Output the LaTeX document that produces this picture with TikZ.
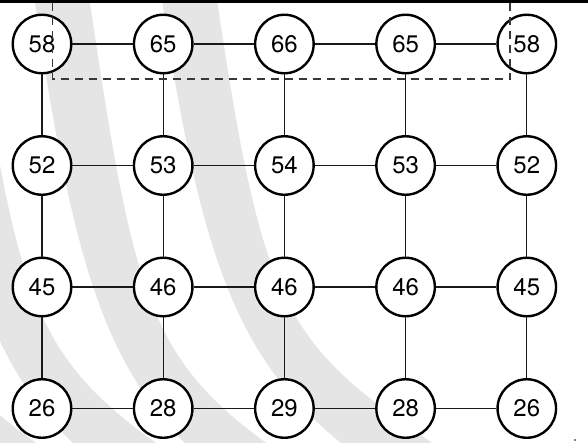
\documentclass[tikz,border=0pt]{standalone}
\usepackage{fontspec}
\setmainfont{TeX Gyre Heros}
\definecolor{bandgray}{RGB}{229,229,229}
\definecolor{dashcol}{RGB}{55,55,55}
\begin{document}
\begin{tikzpicture}[x=1pt,y=-1pt,
  nd/.style={circle, draw=black, line width=2.4pt, fill=white, minimum size=58.5pt, inner sep=0pt, font=\fontsize{24}{24}\selectfont},
  link/.style={line width=1.3pt, draw=black!90},
  dashline/.style={line width=1.2pt, draw=dashcol, dash pattern=on 8pt off 6pt},
  band/.style={fill=bandgray, draw=none}]
\useasboundingbox (0,0) rectangle (588,442);
\fill[white] (0,0) rectangle (588,442);
% background bands
\begin{scope}
\clip (0,0) rectangle (588,442);
% band C
\fill[band] (162,0) .. controls (208,308) and (251,387) .. (401,487) -- (431,442)
  .. controls (281,342) and (262,300) .. (217,0) -- cycle;
% band B
\fill[band] (34.5,0) -- (39,30) .. controls (85,338) and (128,417) .. (278,517) -- (308,472)
  .. controls (158,372) and (139,330) .. (94,30) -- (89.5,0) -- cycle;
% band A
\fill[band] (-82,0) -- (-78,25) .. controls (-32,333) and (11,412) .. (161,512) -- (191,467)
  .. controls (41,367) and (22,325) .. (-23,25) -- (-27,0) -- cycle;
% band Z
\fill[band] (-198,25) .. controls (-152,333) and (-109,412) .. (41,512) -- (71,467)
  .. controls (-79,367) and (-98,325) .. (-143,25) -- cycle;
\end{scope}
% top bar
\fill[black] (0,0) rectangle (588,3.3);
% nodes
\node[nd] (n11) at (42,44) {58};
\node[nd] (n12) at (163.2,44) {65};
\node[nd] (n13) at (284.4,44) {66};
\node[nd] (n14) at (405.6,44) {65};
\node[nd] (n15) at (526.8,44) {58};
\node[nd] (n21) at (42,165.5) {52};
\node[nd] (n22) at (163.2,165.5) {53};
\node[nd] (n23) at (284.4,165.5) {54};
\node[nd] (n24) at (405.6,165.5) {53};
\node[nd] (n25) at (526.8,165.5) {52};
\node[nd] (n31) at (42,287) {45};
\node[nd] (n32) at (163.2,287) {46};
\node[nd] (n33) at (284.4,287) {46};
\node[nd] (n34) at (405.6,287) {46};
\node[nd] (n35) at (526.8,287) {45};
\node[nd] (n41) at (42,408.5) {26};
\node[nd] (n42) at (163.2,408.5) {28};
\node[nd] (n43) at (284.4,408.5) {29};
\node[nd] (n44) at (405.6,408.5) {28};
\node[nd] (n45) at (526.8,408.5) {26};
% connectors
\foreach \r in {1,2,3,4}
  \foreach \c/\d in {1/2,2/3,3/4,4/5}
    \draw[link] (n\r\c) -- (n\r\d);
\foreach \c in {1,2,3,4,5}
  \foreach \r/\s in {1/2,2/3,3/4}
    \draw[link] (n\r\c) -- (n\s\c);
% dashed frame
\coordinate (dtl) at (52.5,3);
\coordinate (dbl) at (52.5,79);
\coordinate (dbr) at (510,79);
\coordinate (dtr) at (510,3);
\draw[dashline] (dtl) -- (dbl) -- (dbr) -- (dtr);
% small dot
\fill[black] (575,440) circle (0.9);
\end{tikzpicture}
\end{document}
